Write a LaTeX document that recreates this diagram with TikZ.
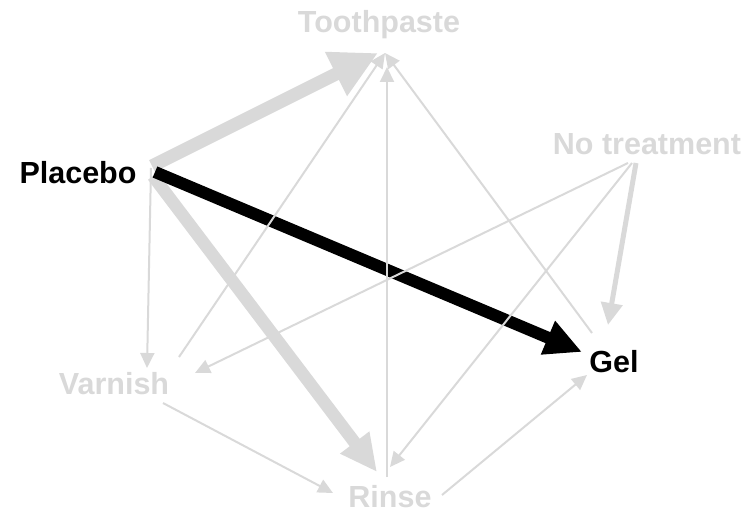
\documentclass[tikz,border=0pt]{standalone}
\usepackage{fontspec}
\setmainfont{Liberation Sans}
\usetikzlibrary{arrows.meta}
\definecolor{faded}{HTML}{D9D9D9}

\begin{document}
\begin{tikzpicture}[x=1pt, y=-1pt, line join=round,
  lbl/.style={inner sep=0pt, anchor=base, font=\fontsize{30.5}{36}\selectfont\bfseries},
  thinarr/.style={faded, line width=2pt, -{Triangle[length=15pt, width=14pt]}},
  midarr/.style={faded, line width=5pt, -{Triangle[length=22pt, width=21pt]}},
  fatarr/.style={line width=12pt, -{Triangle[length=37pt, width=34pt]}}]
\useasboundingbox (0,0) rectangle (749,513);

\node [lbl, faded] (toothpaste) at (379,33) {Toothpaste};
\node [lbl, faded] (notreat) at (647,155) {No treatment};
\node [lbl] (placebo) at (78,183) {Placebo};
\node [lbl] (gel) at (614,372) {Gel};
\node [lbl, faded] (varnish) at (114,394) {Varnish};
\node [lbl, faded] (rinse) at (390,507) {Rinse};

\draw[fatarr, faded, line width=13pt, -{Triangle[length=47pt, width=46pt]}]
  ([shift={(74,-17)}]placebo.base) -- ([shift={(-1,20)}]toothpaste.base);
\draw[fatarr, faded, line width=12.5pt] ([shift={(75,-7)}]placebo.base) -- ([shift={(-13,-35)}]rinse.base);
\draw[fatarr, black] ([shift={(77,-11)}]placebo.base) -- ([shift={(-32,-20)}]gel.base);
\draw[midarr] ([shift={(-11,8)}]notreat.base) -- ([shift={(-6,-47)}]gel.base);

\draw[thinarr] ([shift={(73,-15)}]placebo.base) -- ([shift={(33,-26)}]varnish.base);
\draw[thinarr] ([shift={(65,-37)}]varnish.base) -- ([shift={(6,20)}]toothpaste.base);
\draw[thinarr] ([shift={(-3,-30)}]rinse.base) -- ([shift={(8,34)}]toothpaste.base);
\draw[thinarr] ([shift={(-22,-39)}]gel.base) -- ([shift={(6,20)}]toothpaste.base);
\draw[thinarr] ([shift={(-19,8)}]notreat.base) -- ([shift={(81,-21)}]varnish.base);
\draw[thinarr] ([shift={(-15,8)}]notreat.base) -- ([shift={(0,-40)}]rinse.base);
\draw[thinarr] ([shift={(49,9)}]varnish.base) -- ([shift={(-57,-14)}]rinse.base);
\draw[thinarr] ([shift={(52,-12)}]rinse.base) -- ([shift={(-27,3)}]gel.base);
\end{tikzpicture}
\end{document}
